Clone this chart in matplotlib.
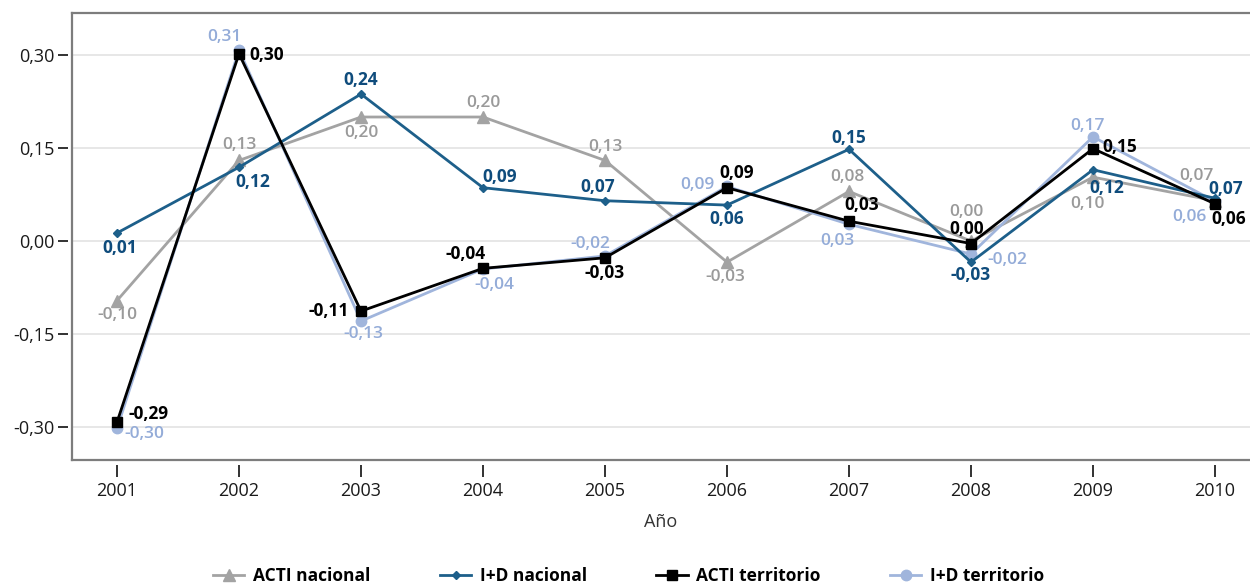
import matplotlib
matplotlib.use("Agg")
import matplotlib.pyplot as plt
from matplotlib.lines import Line2D

# ---------------- data ----------------
years = [2001, 2002, 2003, 2004, 2005, 2006, 2007, 2008, 2009, 2010]
acti_nacional = [-0.096, 0.13, 0.20, 0.20, 0.13, -0.034, 0.08, 0.00, 0.103, 0.065]
id_nacional = [0.013, 0.119, 0.237, 0.086, 0.065, 0.058, 0.148, -0.034, 0.115, 0.069]
acti_territorio = [-0.292, 0.302, -0.113, -0.044, -0.027, 0.086, 0.032, -0.004, 0.149, 0.06]
id_territorio = [-0.302, 0.308, -0.129, -0.045, -0.024, 0.088, 0.027, -0.021, 0.168, 0.064]
ytick_vals = [-0.30, -0.15, 0.00, 0.15, 0.30]
series_names = ["ACTI nacional", "I+D nacional", "ACTI territorio", "I+D territorio"]
x_title = "Año"

# ---------------- styles ----------------
plt.rcParams['font.family'] = ['Open Sans', 'DejaVu Sans']

fig = plt.figure(figsize=(12.5, 5.83), dpi=100)
ax = fig.add_axes([0.0576, 0.211, 0.9424, 0.7667])

line_col = {"ACTI nacional": "#a3a3a3", "I+D nacional": "#1d5f8a",
            "ACTI territorio": "#000000", "I+D territorio": "#a0b5dc"}
text_col = {"ACTI nacional": "#9a9a9a", "I+D nacional": "#0f4c7c",
            "ACTI territorio": "#000000", "I+D territorio": "#94acd8"}
markers = {"ACTI nacional": ("^", 8), "I+D nacional": ("D", 4.5),
           "ACTI territorio": ("s", 7), "I+D territorio": ("o", 7.5)}
zorders = {"ACTI nacional": 2, "I+D territorio": 3, "I+D nacional": 4, "ACTI territorio": 5}
weights = {"ACTI nacional": 600, "I+D nacional": 700,
           "ACTI territorio": 700, "I+D territorio": 600}

# label offsets in pixels (dx, dy) for each point
offsets = {
    "ACTI nacional": [(0, -14), (0, 15), (0, -16), (0, 14), (0, 13), (-2, -15), (-2, 14), (-5, 29), (-6, -27), (-19, 25)],
    "I+D nacional": [(3, -15), (14, -15), (0, 14), (17, 11), (-7, 14), (0, -14), (0, 11), (0, -13), (14, -18), (11, 9)],
    "ACTI territorio": [(32, 8), (28, -1), (-32, 0), (-17, 14), (0, -15), (10, 15), (13, 16), (-4, 15), (27, 2), (14, -15)],
    "I+D territorio": [(27, -6), (-15, 13), (2, -13), (11, -16), (-15, 12), (-30, 1), (-12, -17), (36, -6), (-5, 11), (-26, -16)],
}

data = {"ACTI nacional": acti_nacional, "I+D nacional": id_nacional,
        "ACTI territorio": acti_territorio, "I+D territorio": id_territorio}


def fmt(v):
    r = round(v, 2) + 0.0
    return f"{r:.2f}".replace(".", ",")


for name in series_names:
    vals = data[name]
    m, ms = markers[name]
    ax.plot(years, vals, color=line_col[name], lw=2.0, marker=m, markersize=ms,
            zorder=zorders[name], label=name, clip_on=False)
    for x, v, (dx, dy) in zip(years, vals, offsets[name]):
        ax.annotate(fmt(v), (x, v), xytext=(dx, dy), textcoords="offset pixels",
                    ha="center", va="center", fontsize=12.5, color=text_col[name],
                    family="Open Sans", weight=weights[name], zorder=10)

ax.set_xlim(2000.631, 2010.287)
ax.set_ylim(-0.353, 0.3677)
ax.set_yticks(ytick_vals)
ax.set_xticks(years)
ax.tick_params(length=0, labelleft=False, labelbottom=False)
ax.grid(axis="y", color="#e3e3e3", lw=1.2, zorder=0)
ax.grid(axis="x", visible=False)
for s in ["left", "top", "bottom"]:
    ax.spines[s].set_color("#7d7d7d")
    ax.spines[s].set_linewidth(1.6)
ax.spines["right"].set_visible(False)

# detached tick axes
secx = ax.secondary_xaxis(-0.011)
secx.set_xticks(years)
secx.set_xticklabels([str(y) for y in years])
secx.spines["bottom"].set_visible(False)
secx.tick_params(direction="out", length=8.5, width=1.3, color="#222222",
                 labelsize=13, labelcolor="#1a1a1a", pad=4)
secx.set_xlabel(x_title, fontsize=13, color="#333333", labelpad=9)

secy = ax.secondary_yaxis(-0.0035)
secy.set_yticks(ytick_vals)
secy.set_yticklabels([fmt(v) for v in ytick_vals])
secy.spines["left"].set_visible(False)
secy.tick_params(direction="out", length=7.5, width=1.3, color="#222222",
                 labelsize=13, labelcolor="#1a1a1a", pad=2)

leg_handles = [Line2D([], [], color=line_col[n], lw=2.0, marker=markers[n][0],
                      markersize=markers[n][1]) for n in series_names]
fig.legend(leg_handles, series_names, loc="center", bbox_to_anchor=(0.503, 0.012),
           ncol=4, frameon=False, handlelength=1.8, handletextpad=0.5,
           columnspacing=4.0, prop={"size": 12.5, "weight": 700, "family": "Open Sans"})

fig.savefig("out.png", dpi=100)
